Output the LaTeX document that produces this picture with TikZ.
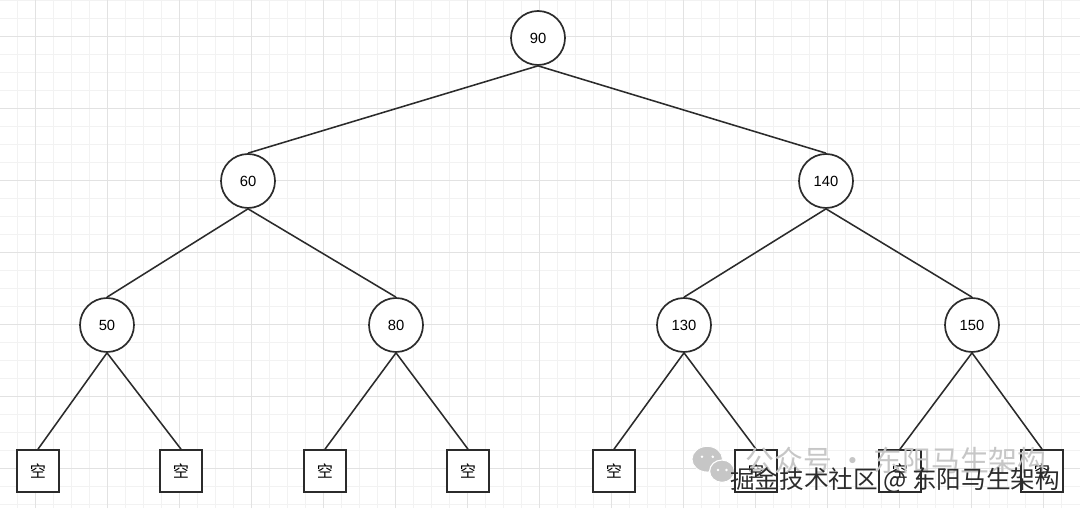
\documentclass[tikz,border=0pt]{standalone}
\usepackage{fontspec}
\setmainfont{Liberation Sans}
\newfontfamily\cjk{Noto Sans CJK SC}
\usepackage{xcolor}
\definecolor{GridMinor}{HTML}{F2F2F2}
\definecolor{GridMajor}{HTML}{E2E2E2}
\definecolor{Ink}{HTML}{2B2B2B}
\definecolor{Mark}{HTML}{C6C6C6}
\usepackage{tikz}

\tikzset{
  keynode/.style={circle,draw=Ink,line width=1.2pt,fill=white,minimum size=1.35cm,inner sep=0pt,font=\fontsize{10.5}{12}\selectfont},
  nilnode/.style={rectangle,draw=Ink,line width=1.2pt,fill=white,minimum size=1.05cm,inner sep=0pt,font=\cjk\fontsize{11.5}{13}\selectfont},
  edge/.style={draw=Ink,line width=1.1pt}
}

\begin{document}
\begin{tikzpicture}
\useasboundingbox (0,0) rectangle (27,12.7);
\fill[white] (0,0) rectangle (27,12.7);
% background grid
\foreach \x in {0.425,0.875,...,26.9}{\draw[GridMinor,line width=0.6pt] (\x,0) -- (\x,12.7);}
\foreach \y in {0.1,0.55,...,12.7}{\draw[GridMinor,line width=0.6pt] (0,\y) -- (27,\y);}
\foreach \x in {0.875,2.675,...,26.9}{\draw[GridMajor,line width=0.7pt] (\x,0) -- (\x,12.7);}
\foreach \y in {1.0,2.8,...,12.7}{\draw[GridMajor,line width=0.7pt] (0,\y) -- (27,\y);}

% keys
\node[keynode] (n90) at (13.45,11.75) {90};
\node[keynode] (n60) at (6.2,8.175) {60};
\node[keynode] (n140) at (20.65,8.175) {140};
\node[keynode] (n50) at (2.675,4.575) {50};
\node[keynode] (n80) at (9.9,4.575) {80};
\node[keynode] (n130) at (17.1,4.575) {130};
\node[keynode] (n150) at (24.3,4.575) {150};

% empty leaves
\foreach \i/\x in {1/0.95,2/4.525,3/8.125,4/11.7,5/15.35,6/18.9,7/22.5,8/26.05}{
  \node[nilnode] (l\i) at (\x,0.925) {空};
}

\foreach \a/\b in {n90/n60,n90/n140,n60/n50,n60/n80,n140/n130,n140/n150,
  n50/l1,n50/l2,n80/l3,n80/l4,n130/l5,n130/l6,n150/l7,n150/l8}{
  \path[edge] (\a.south) -- (\b.north);
}

% watermarks
\fill[Mark,draw=white,line width=0.6pt] (17.68,1.22) ellipse (0.38 and 0.32);
\fill[Mark,draw=white,line width=0.8pt] (18.05,0.92) ellipse (0.31 and 0.28);
\foreach \p in {(17.55,1.28),(17.82,1.28),(17.95,0.95),(18.16,0.95)}{\fill[white] \p circle (0.035);}
\node[text=Mark,font=\cjk\fontsize{20.5}{22}\selectfont,anchor=west,inner sep=0pt] (wm1) at (18.63,1.2) {公众号 · 东阳马生架构};
\node[text=Ink,font=\cjk\fontsize{17.5}{20}\selectfont,anchor=west,inner sep=0pt] (wm2) at (18.25,0.7) {掘金技术社区 @ 东阳马生架构};
\end{tikzpicture}
\end{document}
